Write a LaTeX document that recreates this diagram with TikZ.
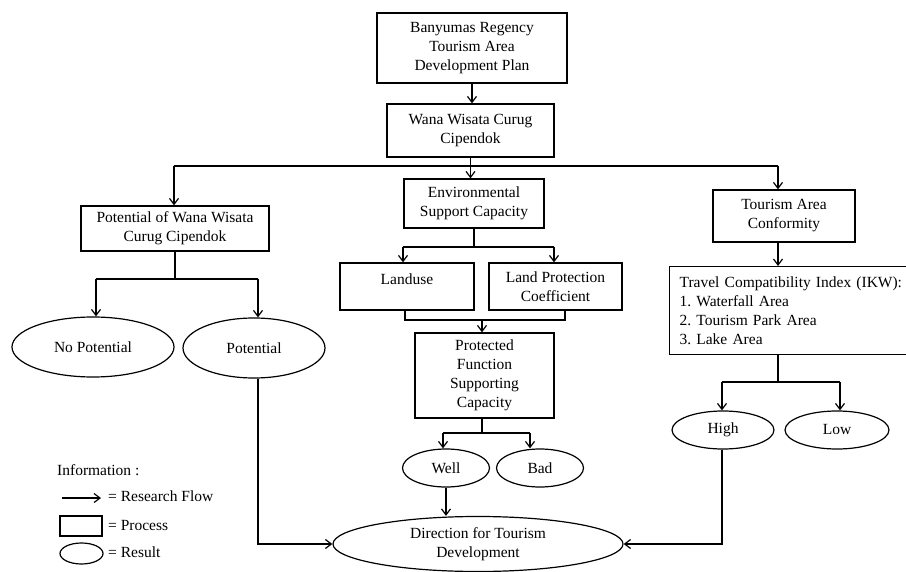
\documentclass[tikz,border=0pt]{standalone}
\usepackage{fontspec}
\setmainfont{Liberation Serif}
\usetikzlibrary{shapes.geometric,arrows.meta}
\begin{document}
\begin{tikzpicture}[x=1pt,y=-1pt,
  font=\fontsize{15.5}{19}\selectfont,
  box/.style={draw, line width=1.2pt, align=center, inner xsep=2pt, inner ysep=2pt},
  plainbox/.style={draw, line width=1.2pt, inner xsep=2pt},
  res/.style={draw, ellipse, line width=1.2pt, inner sep=0pt, align=center},
  ln/.style={line width=1.2pt},
  flow/.style={ln, -{Straight Barb[length=6pt,width=9pt]}},
  lbl/.style={anchor=west, inner sep=0pt}]
\useasboundingbox (0,0) rectangle (906,572);

% process boxes
\node[box, minimum width=190, minimum height=70] (plan) at (472,48) {Banyumas Regency\\Tourism Area\\Development Plan};
\node[box, minimum width=167, minimum height=53] (wana) at (470.5,130.5) {Wana Wisata Curug\\Cipendok};
\node[box, minimum width=188, minimum height=45] (pot) at (175,228.5) {Potential of Wana Wisata\\Curug Cipendok};
\node[box, minimum width=140, minimum height=49] (env) at (474,203.5) {Environmental\\Support Capacity};
\node[box, minimum width=142, minimum height=52] (tac) at (784,216) {Tourism Area\\Conformity};
\node[plainbox, minimum width=134, inner ysep=0pt, text height=22pt, text depth=25pt] (land) at (407,286.5) {Landuse};
\node[box, minimum width=133, minimum height=47] (lpc) at (555.5,286.5) {Land Protection\\Coefficient};
\node[box, minimum width=139, minimum height=85] (prot) at (484.5,375.5) {Protected\\Function\\Supporting\\Capacity};
\node[box, anchor=north west, text width=232pt, align=left, inner xsep=10pt, inner ysep=7pt, minimum height=88] (ikw) at (669,266) {Travel Compatibility Index (IKW):\\1.\ Waterfall Area\\2.\ Tourism Park Area\\3.\ Lake Area};

% result ellipses
\node[res, minimum width=162, minimum height=60] (nopot) at (93,347) {No Potential};
\node[res, minimum width=142, minimum height=60] (potl) at (254,348) {Potential};
\node[res, minimum width=87, minimum height=38] (well) at (446,468) {Well};
\node[res, minimum width=87, minimum height=38] (bad) at (540,468) {Bad};
\node[res, minimum width=102, minimum height=38] (high) at (723,430) {High};
\node[res, minimum width=104, minimum height=38] (low) at (837,430) {Low};
\node[res, minimum width=290, minimum height=55] (dir) at (478,544) {Direction for Tourism\\Development};

% connectors
\draw[flow] (plan.south) -- (plan.south |- wana.north);
\coordinate (bL) at (174,166);
\coordinate (bR) at (778,166);
\draw[ln] (wana.south) -- (wana.south |- bL);
\draw[ln] (bL) -- (bR);
\draw[flow] (bL) -- (bL |- pot.north);
\draw[flow] (wana.south |- bL) -- (wana.south |- env.north);
\draw[flow] (bR) -- (bR |- tac.north);

\coordinate (pL) at (96,279);
\coordinate (pR) at (258,279);
\draw[ln] (pot.south) -- (pot.south |- pL);
\draw[ln] (pL) -- (pR);
\draw[flow] (pL) -- (pL |- nopot.north);
\draw[flow] (pR) -- (pR |- potl.north);
\draw[flow] (potl.south -| pR) |- (dir.west);

\coordinate (eL) at (403,247);
\coordinate (eR) at (554,247);
\draw[ln] (env.south) -- (env.south |- eL);
\draw[ln] (eL) -- (eR);
\draw[flow] (eL) -- (eL |- land.north);
\draw[flow] (eR) -- (eR |- lpc.north);

\coordinate (kL) at (405,320);
\coordinate (kR) at (565,320);
\coordinate (kM) at (482,320);
\draw[ln] (kL |- land.south) -- (kL) -- (kR) -- (kR |- lpc.south);
\draw[flow] (kM) -- (kM |- prot.north);

\coordinate (wL) at (443,433);
\coordinate (wR) at (530,433);
\draw[ln] (kM |- prot.south) -- (kM |- wL);
\draw[ln] (wL) -- (wR);
\draw[flow] (wL) -- (wL |- well.north);
\draw[flow] (wR) -- (wR |- bad.north);
\draw[flow] (well.south) -- (well.south |- dir.north);

\draw[flow] (bR |- tac.south) -- (bR |- ikw.north);
\coordinate (iM) at (778,382);
\coordinate (iL) at (722,382);
\coordinate (iR) at (840,382);
\draw[ln] (iM |- ikw.south) -- (iM);
\draw[ln] (iL) -- (iR);
\draw[flow] (iL) -- (iL |- high.north);
\draw[flow] (iR) -- (iR |- low.north);
\draw[flow] (high.south -| iL) |- (dir.east);

% legend
\node[lbl] (info) at (57,470) {Information :};
\coordinate (la1) at (62,498);
\coordinate (la2) at (101,498);
\draw[flow] (la1) -- (la2);
\node[lbl] (lflow) at (108,496) {= Research Flow};
\node[draw, line width=1.2pt, minimum width=42, minimum height=20, inner sep=0pt] (lbox) at (81,526) {};
\node[lbl] (lproc) at (108,525) {= Process};
\node[res, minimum width=43, minimum height=21] (lell) at (81.5,553.5) {};
\node[lbl] (lres) at (108,552) {= Result};
\end{tikzpicture}
\end{document}
